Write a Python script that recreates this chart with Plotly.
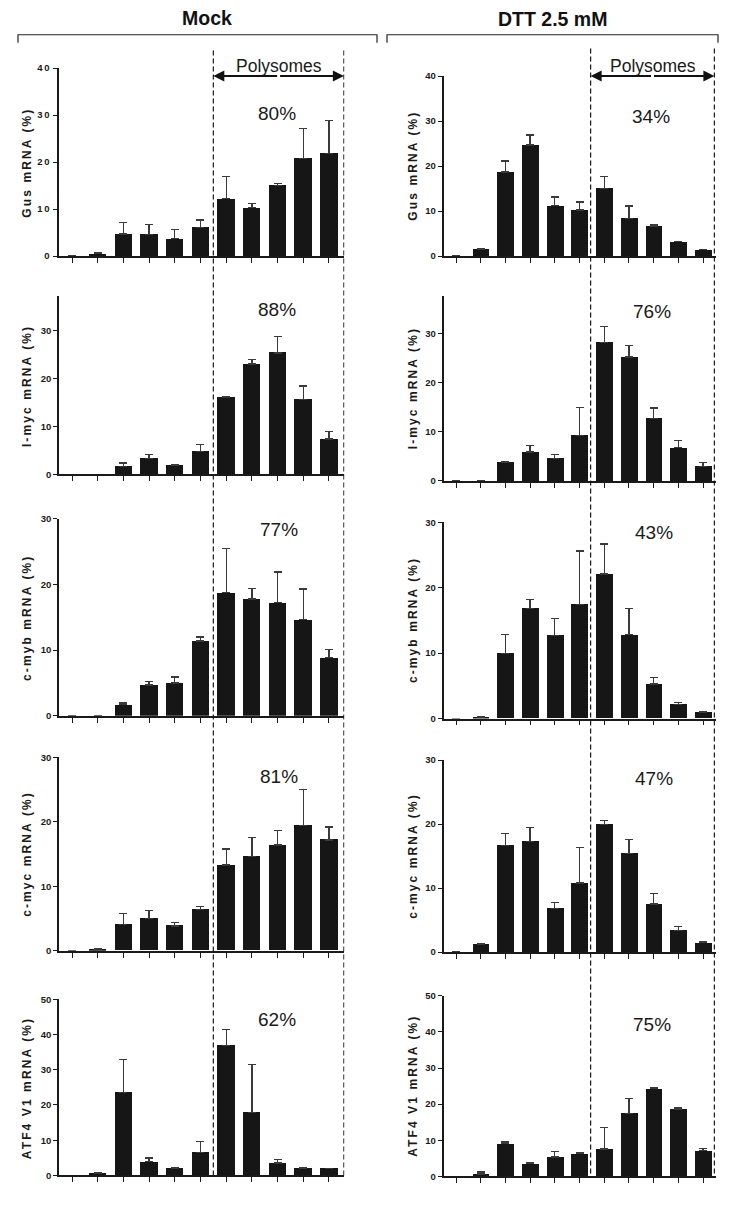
import plotly.graph_objects as go

# ---------------- data ----------------
fractions = list(range(1, 12))
conditions = ["Mock", "DTT 2.5 mM"]
y_titles = ["Gus mRNA (%)", "l-myc mRNA (%)", "c-myb mRNA (%)", "c-myc mRNA (%)", "ATF4 V1 mRNA (%)"]

gus_mock = [0, 0.5, 4.7, 4.6, 3.7, 6.1, 12.2, 10.3, 15.0, 20.8, 21.9]
gus_mock_err = [0, 0.3, 2.5, 2.1, 1.9, 1.6, 4.7, 0.9, 0.5, 6.3, 7.0]
gus_dtt = [0, 1.5, 18.7, 24.7, 11.2, 10.2, 15.0, 8.4, 6.7, 3.2, 1.4]
gus_dtt_err = [0, 0.1, 2.4, 2.2, 1.9, 1.8, 2.7, 2.7, 0.3, 0.1, 0.1]

lmyc_mock = [0, 0, 1.7, 3.4, 1.9, 4.8, 16.1, 23.1, 25.4, 15.7, 7.4]
lmyc_mock_err = [0, 0, 0.7, 0.7, 0.1, 1.5, 0.2, 0.9, 3.4, 2.8, 1.6]
lmyc_dtt = [0, 0, 3.8, 5.9, 4.6, 9.3, 28.3, 25.3, 12.8, 6.8, 3.0]
lmyc_dtt_err = [0, 0, 0.1, 1.4, 0.8, 5.7, 3.2, 2.3, 2.1, 1.4, 0.8]

cmyb_mock = [0, 0, 1.7, 4.7, 5.0, 11.4, 18.8, 17.8, 17.2, 14.7, 8.9]
cmyb_mock_err = [0, 0, 0.25, 0.5, 0.9, 0.6, 6.7, 1.6, 4.7, 4.6, 1.2]
cmyb_dtt = [0, 0.2, 9.9, 16.8, 12.7, 17.4, 22.1, 12.8, 5.3, 2.1, 1.0]
cmyb_dtt_err = [0, 0.05, 3.0, 1.4, 2.6, 8.2, 4.6, 4.0, 1.0, 0.4, 0.1]

cmyc_mock = [0, 0.25, 4.1, 5.0, 3.85, 6.4, 13.3, 14.6, 16.4, 19.4, 17.2]
cmyc_mock_err = [0, 0.15, 1.7, 1.3, 0.55, 0.5, 2.5, 3.0, 2.3, 5.6, 2.0]
cmyc_dtt = [0, 1.25, 16.7, 17.3, 6.8, 10.8, 20.0, 15.4, 7.5, 3.4, 1.45]
cmyc_dtt_err = [0, 0.05, 1.8, 2.2, 1.0, 5.6, 0.6, 2.2, 1.7, 0.6, 0.2]

atf4_mock = [0, 0.65, 23.5, 3.85, 1.9, 6.5, 36.9, 17.8, 3.5, 1.9, 1.9]
atf4_mock_err = [0, 0.2, 9.4, 1.05, 0.35, 3.1, 4.6, 13.7, 1.1, 0.35, 0]
atf4_dtt = [0, 0.7, 9.15, 3.55, 5.4, 6.4, 7.6, 17.5, 24.3, 18.6, 7.2]
atf4_dtt_err = [0, 0.5, 0.35, 0.35, 1.5, 0.2, 5.9, 4.1, 0.2, 0.3, 0.6]

polysome_pct_mock = ["80%", "88%", "77%", "81%", "62%"]
polysome_pct_dtt = ["34%", "76%", "43%", "47%", "75%"]

y_ranges_mock = [40, 37.2, 30, 30, 50]
y_ranges_dtt = [40, 37.7, 30, 30, 50]
y_ticks_mock = [[0, 10, 20, 30, 40], [0, 10, 20, 30], [0, 10, 20, 30], [0, 10, 20, 30], [0, 10, 20, 30, 40, 50]]
y_ticks_dtt = [[0, 10, 20, 30, 40], [0, 10, 20, 30], [0, 10, 20, 30], [0, 10, 20, 30], [0, 10, 20, 30, 40, 50]]

series = [
    [(gus_mock, gus_mock_err), (lmyc_mock, lmyc_mock_err), (cmyb_mock, cmyb_mock_err),
     (cmyc_mock, cmyc_mock_err), (atf4_mock, atf4_mock_err)],
    [(gus_dtt, gus_dtt_err), (lmyc_dtt, lmyc_dtt_err), (cmyb_dtt, cmyb_dtt_err),
     (cmyc_dtt, cmyc_dtt_err), (atf4_dtt, atf4_dtt_err)],
]

# ---------------- geometry ----------------
W, H = 750, 1225
def PX(x):
    return x / W
def PY(y):
    return 1 - y / H

FONT = "Arial, Liberation Sans, sans-serif"
col_px = [(59.15, 344.4), (443.65, 716.1)]
col_xrange = [[0.5, 11.6], [0.5, 11.53]]
poly_edges = [(6.5, 11.58), (6.45, 11.46)]
panel_px = [
    [(252.3, 62.7), (472.7, 293.0), (716.3, 517.3), (953.3, 758.3), (1180.0, 1002.3)],
    [(252.3, 70.7), (479.3, 292.7), (719.0, 521.0), (954.7, 761.0), (1181.0, 998.7)],
]
pct_px = [
    [(277, 108), (277, 306), (279, 528), (279, 777), (277, 1023)],
    [(651, 112), (652, 308), (654, 531), (654, 779), (652, 1028)],
]
title_x = [27, 413]
y_ranges = [y_ranges_mock, y_ranges_dtt]
y_ticks = [y_ticks_mock, y_ticks_dtt]
pcts = [polysome_pct_mock, polysome_pct_dtt]

fig = go.Figure()
layout = dict(width=W, height=H, margin=dict(l=0, r=0, t=0, b=0),
              paper_bgcolor="white", plot_bgcolor="white", showlegend=False,
              bargap=0, font=dict(family=FONT, color="#1a1a1a"))
annotations = []
shapes = []

idx = 0
for c in range(2):
    for r in range(5):
        idx += 1
        xa = "x" if idx == 1 else f"x{idx}"
        ya = "y" if idx == 1 else f"y{idx}"
        vals, errs = series[c][r]
        errs_shown = [e if v > 0 else None for v, e in zip(vals, errs)]
        fig.add_trace(go.Bar(
            x=fractions, y=vals, width=0.68, xaxis=xa, yaxis=ya,
            marker=dict(color="#161616", line=dict(width=0)),
            error_y=dict(type="data", symmetric=False, array=errs_shown,
                         arrayminus=[0] * len(errs), color="#3a3a3a",
                         thickness=1.3, width=4),
            hoverinfo="skip"))
        bot, top = panel_px[c][r]
        layout["xaxis" if idx == 1 else f"xaxis{idx}"] = dict(
            domain=[PX(col_px[c][0]), PX(col_px[c][1])], range=col_xrange[c],
            anchor=ya, showticklabels=False, ticks="outside", tickvals=fractions,
            ticklen=5, tickwidth=1.3, tickcolor="#1a1a1a",
            showline=True, linewidth=1.8, linecolor="#1a1a1a",
            showgrid=False, zeroline=False, fixedrange=True)
        layout["yaxis" if idx == 1 else f"yaxis{idx}"] = dict(
            domain=[PY(bot), PY(top)], range=[0, y_ranges[c][r]], anchor=xa,
            tickvals=y_ticks[c][r], ticks="outside", ticklen=4, tickwidth=1.3,
            tickcolor="#1a1a1a", showline=True, linewidth=1.8, linecolor="#1a1a1a",
            showgrid=False, zeroline=False, fixedrange=True,
            tickfont=dict(family=FONT, size=9.5, color="#1a1a1a", weight="bold"))
        # y title
        annotations.append(dict(
            text=y_titles[r], textangle=-90, xref="paper", yref="paper",
            x=PX(title_x[c]), y=PY((bot + top) / 2), showarrow=False,
            xanchor="center", yanchor="middle",
            font=dict(family=FONT, size=12, color="#1a1a1a", weight="bold")))
        # polysome percentage
        annotations.append(dict(
            text=pcts[c][r], xref="paper", yref="paper",
            x=PX(pct_px[c][r][0]), y=PY(pct_px[c][r][1]), showarrow=False,
            xanchor="center", yanchor="middle",
            font=dict(family=FONT, size=19, color="#1a1a1a")))
    # dashed polysome boundaries spanning the column
    first_x = "x" if c == 0 else "x6"
    for xe in poly_edges[c]:
        shapes.append(dict(type="line", xref=first_x, yref="paper",
                           x0=xe, x1=xe, y0=PY(45 if c == 0 else 43), y1=PY(1182),
                           line=dict(color="#1a1a1a", width=1.2, dash="5px,3px")))
    # Polysomes double arrow
    x_mid = (poly_edges[c][0] + poly_edges[c][1]) / 2
    for xe in poly_edges[c]:
        annotations.append(dict(
            text="", x=xe, y=PY(70.7), xref=first_x, yref="paper",
            ax=x_mid, axref=first_x, ay=0, ayref="pixel",
            showarrow=True, arrowhead=2, arrowsize=1.1, arrowwidth=2,
            arrowcolor="#111111", standoff=0, startstandoff=0))
    annotations.append(dict(
        text="Polysomes", x=x_mid, y=PY(61), xref=first_x, yref="paper",
        showarrow=False, xanchor="center", yanchor="middle",
        font=dict(family=FONT, size=17.5, color="#1a1a1a")))

# extra "40" label above the shortened l-myc (Mock) axis
annotations.append(dict(
    text="40", xref="paper", yref="y2", x=PX(50), y=40, showarrow=False,
    xanchor="right", yanchor="middle",
    font=dict(family=FONT, size=9.5, color="#1a1a1a", weight="bold")))

# condition headers and brackets
annotations.append(dict(text="Mock", xref="paper", yref="paper", x=PX(207), y=PY(12),
                        showarrow=False, xanchor="center", yanchor="middle",
                        font=dict(family=FONT, size=19.5, color="#111111", weight="bold")))
annotations.append(dict(text="DTT 2.5 mM", xref="paper", yref="paper", x=PX(552), y=PY(13),
                        showarrow=False, xanchor="center", yanchor="middle",
                        font=dict(family=FONT, size=19.5, color="#111111", weight="bold")))
for (xl, xr) in [(18, 377), (387, 718)]:
    shapes.append(dict(type="path", xref="paper", yref="paper",
                       path=f"M {PX(xl)},{PY(37)} L {PX(xl)},{PY(29)} L {PX(xr)},{PY(29)} L {PX(xr)},{PY(37)}",
                       line=dict(color="#222222", width=1.2)))

layout["annotations"] = annotations
layout["shapes"] = shapes
fig.update_layout(**layout)

js = """
document.body.style.margin='0';
document.body.style.padding='0';
var st=document.createElement('style');
st.textContent='html,body{margin:0;padding:0;overflow:hidden;} .ytick text{letter-spacing:1.8px;}';
document.head.appendChild(st);
document.querySelectorAll('.annotation-text').forEach(function(t){
  var s=t.textContent;
  if(s.indexOf('mRNA')>=0){t.style.letterSpacing='2.1px';}
  else if(s==='40'){t.style.letterSpacing='1.8px';}
});
"""
fig.write_html("out.html", post_script=js, config={"displayModeBar": False})
